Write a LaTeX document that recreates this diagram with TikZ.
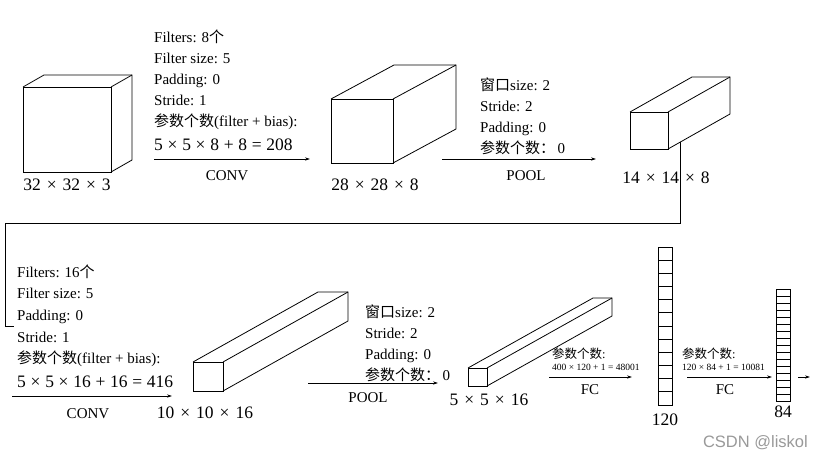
\documentclass[tikz,border=0pt]{standalone}
\usepackage{fontspec}
\setmainfont{Liberation Serif}
\newfontfamily\cjk{Noto Sans CJK SC}
\newfontfamily\wmfont{Liberation Sans}
\usetikzlibrary{arrows.meta,calc}
\newcommand\mycuboid[6]{%
  \draw[edge] (#1,#2) rectangle (#3,#4);
  \draw[edge] (#1,#2) -- ++(#5,#6) -- ++({#3-#1},0) -- ++(0,{#4-#2}) -- (#3,#4);
  \draw[edge] (#3,#2) -- ++(#5,#6);}
\newcommand\myvector[5]{%
  \draw[edge] (#1,#2) rectangle (#3,#4);
  \foreach \k in {1,...,#5} {\draw[edge] (#1,{#2+(#4-#2)*\k/(#5+1)}) -- (#3,{#2+(#4-#2)*\k/(#5+1)});}}
\newcommand\tm{\hspace{0.34em}×\hspace{0.34em}}
\newcommand\fm{\hspace{0.27em}×\hspace{0.27em}}
\newcommand\pl{\hspace{0.27em}+\hspace{0.27em}}
\newcommand\eq{\hspace{0.27em}=\hspace{0.27em}}
\tikzset{
  edge/.style={line width=0.8pt, black},
  txt/.style={anchor=base west, inner sep=0pt, font=\fontsize{15}{18}\selectfont},
  formula/.style={anchor=base west, inner sep=0pt, font=\fontsize{17.5}{20}\selectfont},
  small/.style={anchor=base west, inner sep=0pt, font=\fontsize{9.5}{11}\selectfont},
  dim/.style={anchor=base, inner sep=0pt, font=\fontsize{17.5}{20}\selectfont},
  op/.style={anchor=base, inner sep=0pt, font=\fontsize{15}{18}\selectfont},
  arr/.style={-{Stealth[length=5pt,width=3.2pt]}, line width=0.7pt},
  wire/.style={line width=0.8pt},
}
\begin{document}
\begin{tikzpicture}[x=1pt,y=-1pt]
\useasboundingbox (0,0) rectangle (824,458);
% solids
\mycuboid{23}{87}{111}{172}{21}{-12}
\mycuboid{331}{99}{393}{163}{63}{-34}
\mycuboid{630}{112}{668}{149}{62}{-35}
\mycuboid{193}{362}{223}{391}{125}{-70}
\mycuboid{468}{368}{487}{386}{125}{-70}
\myvector{658}{247}{672}{405}{11}
\myvector{776}{289}{790}{401}{15}
% dimension labels
\node[dim] (d1) at (67,190) {32\tm 32\tm 3};
\node[dim] (d2) at (375,190) {28\tm 28\tm 8};
\node[dim] (d3) at (666,183) {14\tm 14\tm 8};
\node[dim] (d4) at (205,418) {10\tm 10\tm 16};
\node[dim] (d5) at (489,405) {5\tm 5\tm 16};
\node[dim] (d6) at (665,425) {120};
\node[dim] (d7) at (783,417) {84};
% block 1: CONV
\node[txt] (a1) at (154,42) {Filters: 8{\cjk 个}};
\node[txt] (a2) at (154,63) {Filter size: 5};
\node[txt] (a3) at (154,84) {Padding: 0};
\node[txt] (a4) at (154,105) {Stride: 1};
\node[txt] (a5) at (154,126) {{\cjk 参数个数}(filter + bias):};
\node[formula] (a6) at (154,150) {5\fm 5\fm 8\pl 8\eq 208};
\coordinate (c1s) at (154,159); \coordinate (c1e) at (310,159);
\draw[arr] (c1s) -- (c1e);
\node[op] (c1) at (227,180) {CONV};
% block 2: POOL
\node[txt] (b1) at (480,90) {{\cjk 窗口}size: 2};
\node[txt] (b2) at (480,111) {Stride: 2};
\node[txt] (b3) at (480,132) {Padding: 0};
\node[txt] (b4) at (480,153) {{\cjk 参数个数：}\,0};
\coordinate (p1s) at (442,159); \coordinate (p1e) at (596,159);
\draw[arr] (p1s) -- (p1e);
\node[op] (p1) at (526,180) {POOL};
% wrap connector
\coordinate (w0) at (680,142); \coordinate (w1) at (680,223);
\coordinate (w2) at (5,223); \coordinate (w3) at (5,326); \coordinate (w4) at (14,326);
\draw[wire] (w0) -- (w1) -- (w2) -- (w3) -- (w4);
% block 3: CONV
\node[txt] (e1) at (17,277) {Filters: 16{\cjk 个}};
\node[txt] (e2) at (17,298) {Filter size: 5};
\node[txt] (e3) at (17,320) {Padding: 0};
\node[txt] (e4) at (17,342) {Stride: 1};
\node[txt] (e5) at (17,363) {{\cjk 参数个数}(filter + bias):};
\node[formula] (e6) at (17,387) {5\fm 5\fm 16\pl 16\eq 416};
\coordinate (c2s) at (12,396); \coordinate (c2e) at (172,396);
\draw[arr] (c2s) -- (c2e);
\node[op] (c2) at (88,418) {CONV};
% block 4: POOL
\node[txt] (f1) at (365,317) {{\cjk 窗口}size: 2};
\node[txt] (f2) at (365,338) {Stride: 2};
\node[txt] (f3) at (365,359) {Padding: 0};
\node[txt] (f4) at (365,380) {{\cjk 参数个数：}\,0};
\coordinate (p2s) at (308,383); \coordinate (p2e) at (438,383);
\draw[arr] (p2s) -- (p2e);
\node[op] (p2) at (368,402) {POOL};
% FC 1
\node[txt, font=\fontsize{12.5}{15}\selectfont] (g1) at (552,358) {{\cjk 参数个数}:};
\node[small] (g2) at (552,370) {400 × 120 + 1 = 48001};
\coordinate (fc1s) at (549,377); \coordinate (fc1e) at (632,377);
\draw[arr] (fc1s) -- (fc1e);
\node[op] (fc1) at (590,394) {FC};
% FC 2
\node[txt, font=\fontsize{12.5}{15}\selectfont] (h1) at (682,358) {{\cjk 参数个数}:};
\node[small] (h2) at (682,370) {120 × 84 + 1 = 10081};
\coordinate (fc2s) at (687,377); \coordinate (fc2e) at (772,377);
\draw[arr] (fc2s) -- (fc2e);
\node[op] (fc2) at (725,394) {FC};
\coordinate (o1s) at (798,377); \coordinate (o1e) at (810,377);
\draw[arr] (o1s) -- (o1e);
% watermark
\node[anchor=base east, inner sep=0pt, font=\wmfont\fontsize{16.5}{19}\selectfont, text=black!40] (wm) at (808,447) {CSDN @liskol};
\end{tikzpicture}
\end{document}
